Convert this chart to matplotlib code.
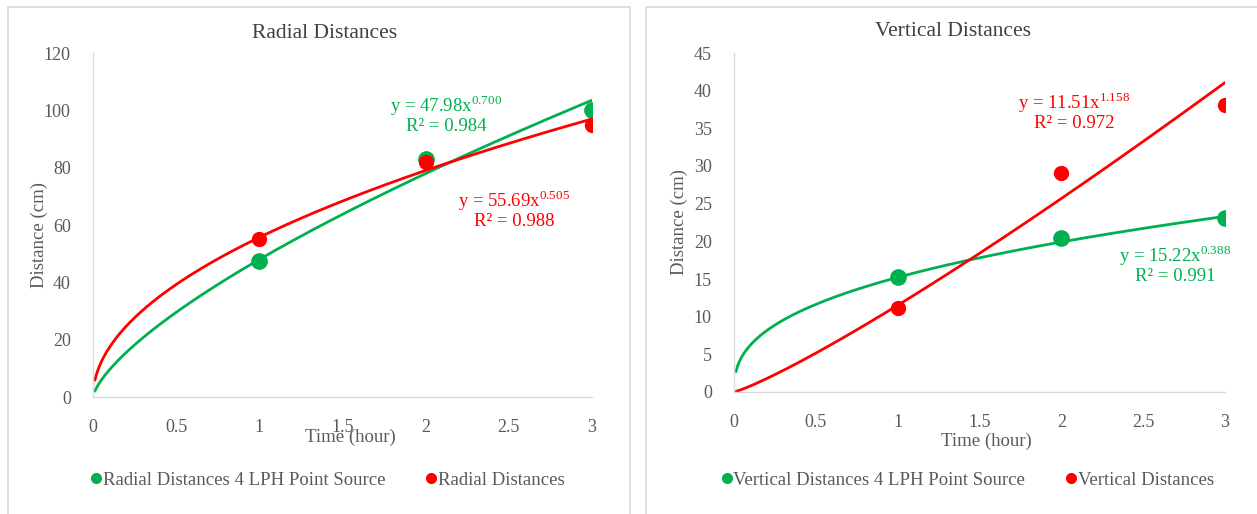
import matplotlib
matplotlib.use("Agg")
import matplotlib.pyplot as plt
from matplotlib.lines import Line2D
from matplotlib.patches import Rectangle
import numpy as np

plt.rcParams['font.family'] = ['Liberation Serif', 'DejaVu Serif']
plt.rcParams['mathtext.fontset'] = 'custom'
plt.rcParams['mathtext.rm'] = 'Liberation Serif'

# ---- data ----
times = [1, 2, 3]
radial_4lph = [47.5, 83, 100]
radial = [55, 82, 95]
vertical_4lph = [15.2, 20.5, 23.1]
vertical = [11.1, 29.1, 38.1]

# power-law trendlines: (coef, exponent, R2)
radial_4lph_fit = (47.98, 0.700, 0.984)
radial_fit = (55.69, 0.505, 0.988)
vertical_4lph_fit = (15.22, 0.388, 0.991)
vertical_fit = (11.51, 1.158, 0.972)

x_ticks = [0, 0.5, 1, 1.5, 2, 2.5, 3]
x_tick_labels = ['0', '0.5', '1', '1.5', '2', '2.5', '3']
radial_yticks = [0, 20, 40, 60, 80, 100, 120]
vertical_yticks = [0, 5, 10, 15, 20, 25, 30, 35, 40, 45]

GREEN = '#00B050'
RED = '#FF0000'
GRAY = '#595959'
FS = 13.5

fig = plt.figure(figsize=(12.57, 5.14), dpi=100)

# panel borders
for (x0, w) in [(8 / 1257, 622 / 1257), (646 / 1257, 620 / 1257)]:
    fig.patches.append(Rectangle((x0, -0.02), w, 1 - 7 / 514 + 0.02, transform=fig.transFigure,
                                 fill=False, edgecolor='#d9d9d9', linewidth=1.2))

def setup(ax, yticks, ylim, title, title_xy, ylab_xy, xlab_y):
    ax.set_xlim(0, 3)
    ax.set_ylim(*ylim)
    ax.set_xticks(x_ticks)
    ax.set_xticklabels(x_tick_labels)
    ax.set_yticks(yticks)
    for s in ['top', 'right']:
        ax.spines[s].set_visible(False)
    for s in ['left', 'bottom']:
        ax.spines[s].set_color('#d9d9d9')
        ax.spines[s].set_linewidth(1.0)
    ax.tick_params(axis='both', length=0, labelsize=13, labelcolor=GRAY)
    ax.tick_params(axis='x', pad=16)
    ax.tick_params(axis='y', pad=16)
    ax.set_ylabel('Distance (cm)', fontsize=FS, color=GRAY, va='center')
    ax.yaxis.set_label_coords(*ylab_xy, transform=fig.transFigure)
    ax.set_xlabel('Time (hour)', fontsize=FS, color=GRAY, va='center')
    ax.xaxis.set_label_coords(0.515, xlab_y)
    fig.text(title_xy[0], title_xy[1], title, ha='center', va='center',
             fontsize=15.5, color='#404040')

def trend(ax, fit, color):
    a, b, _ = fit
    xs = np.linspace(0.012, 3, 300)
    ax.plot(xs, a * xs ** b, color=color, linewidth=2.0, zorder=2)

def eq_text(ax, fit, color, x, y):
    a, b, r2 = fit
    ax.text(x, y, r"y = %.2fx$^{\mathregular{%.3f}}$" % (a, b) + "\n" + "R² = %.3f" % r2,
            transform=fig.transFigure, ha='center', va='center', color=color,
            fontsize=FS, linespacing=1.05)

# ---- left: radial ----
ax1 = fig.add_axes([93 / 1257, 117 / 514, 499 / 1257, 344 / 514])
setup(ax1, radial_yticks, (0, 120), 'Radial Distances',
      (325 / 1257, 1 - 34 / 514), (39 / 1257, 1 - 235 / 514), -0.116)
trend(ax1, radial_4lph_fit, GREEN)
trend(ax1, radial_fit, RED)
ax1.plot(times, radial_4lph, 'o', color=GREEN, markersize=11, zorder=3)
ax1.plot(times, radial, 'o', color=RED, markersize=10, zorder=4)
eq_text(ax1, radial_4lph_fit, GREEN, 446 / 1257, 1 - 114 / 514)
eq_text(ax1, radial_fit, RED, 514 / 1257, 1 - 209 / 514)

# ---- right: vertical ----
ax2 = fig.add_axes([734 / 1257, 122 / 514, 491 / 1257, 339 / 514])
setup(ax2, vertical_yticks, (0, 45), 'Vertical Distances',
      (953 / 1257, 1 - 32 / 514), (679 / 1257, 1 - 222 / 514), -0.145)
trend(ax2, vertical_4lph_fit, GREEN)
trend(ax2, vertical_fit, RED)
ax2.plot(times, vertical_4lph, 'o', color=GREEN, markersize=11, zorder=3)
ax2.plot(times, vertical, 'o', color=RED, markersize=10, zorder=4)
eq_text(ax2, vertical_fit, RED, 1074 / 1257, 1 - 111 / 514)
eq_text(ax2, vertical_4lph_fit, GREEN, 1175 / 1257, 1 - 264 / 514)

# ---- legends ----
def legend(labels, x_center):
    handles = [Line2D([], [], marker='o', linestyle='none', color=GREEN, markersize=7),
               Line2D([], [], marker='o', linestyle='none', color=RED, markersize=7)]
    fig.legend(handles, labels, loc='center', bbox_to_anchor=(x_center, 1 - 480 / 514),
               ncol=2, frameon=False, fontsize=FS, handlelength=0.5, handletextpad=0.1,
               columnspacing=2.2, labelcolor=GRAY)

legend(['Radial Distances 4 LPH Point Source', 'Radial Distances'], 328 / 1257)
legend(['Vertical Distances 4 LPH Point Source', 'Vertical Distances'], 968 / 1257)

fig.savefig('out.png', dpi=100, facecolor='white')
